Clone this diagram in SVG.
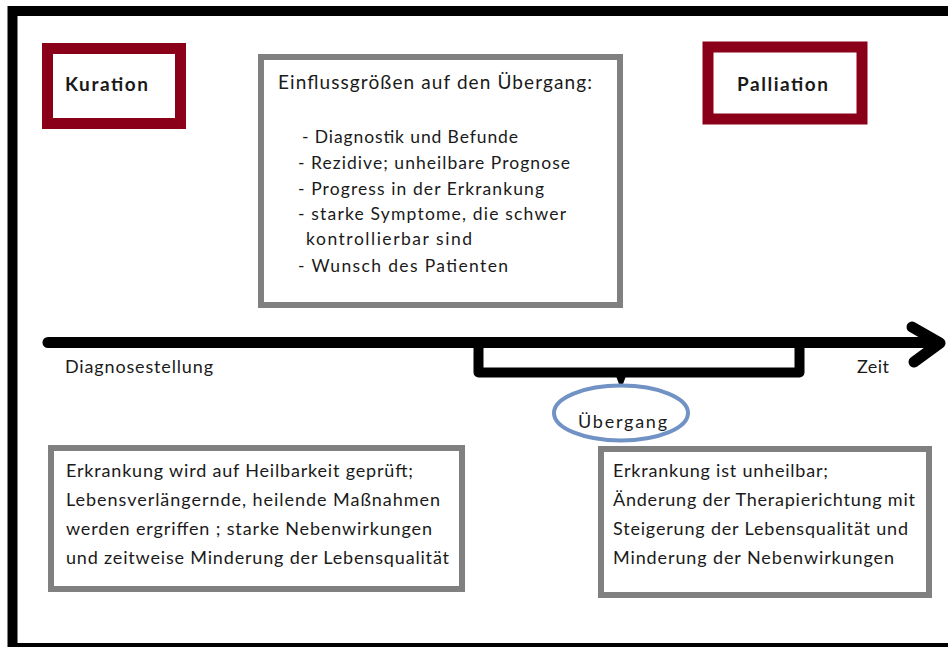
<svg xmlns="http://www.w3.org/2000/svg" width="948" height="647" viewBox="0 0 948 647">
<style>
text{font-family:Lato,"Open Sans","Liberation Sans",sans-serif;fill:#1a1a1a}
.t{font-size:18px}
.s{font-size:17.5px}
.h{font-size:19px}
.b{font-size:19px;font-weight:bold}
.red{fill:#fff;stroke:#8a0018;stroke-width:11}
.gray{fill:#fff;stroke:#808080;stroke-width:6}
.blk{fill:none;stroke:#000;stroke-linecap:round;stroke-linejoin:round}
</style>
<rect x="0" y="0" width="948" height="647" fill="#fff"/>
<rect id="frame" x="12.5" y="11" width="950" height="637" fill="none" stroke="#000" stroke-width="10"/>
<g id="kuration">
<rect class="red" x="47.5" y="48.5" width="133" height="75"/>
<text class="b" x="65" y="91" textLength="83">Kuration</text>
</g>
<g id="palliation">
<rect class="red" x="708" y="47" width="154" height="72"/>
<text class="b" x="737" y="91" textLength="91">Palliation</text>
</g>
<g id="einfluss">
<rect class="gray" x="261" y="57" width="359" height="248"/>
<text class="h" x="278" y="89" textLength="314">Einflussgrößen auf den Übergang:</text>
<text class="s" x="302" y="143" textLength="216">- Diagnostik und Befunde</text>
<text class="s" x="298" y="169" textLength="272">- Rezidive; unheilbare Prognose</text>
<text class="s" x="298" y="195" textLength="246">- Progress in der Erkrankung</text>
<text class="s" x="298" y="220" textLength="268">- starke Symptome, die schwer</text>
<text class="s" x="306" y="245" textLength="166">kontrollierbar sind</text>
<text class="s" x="298" y="272" textLength="210">- Wunsch des Patienten</text>
</g>
<g id="connectors">
<line class="blk" x1="48" y1="342.5" x2="938" y2="342.5" stroke-width="11"/>
<polyline class="blk" points="912,327 940,343 914,362" stroke-width="11"/>
<path class="blk" d="M478.5,343 V372.5 H799.5 V343" stroke-width="10" stroke-linecap="butt" stroke-linejoin="miter"/>
<path d="M616,376 H626 L623,384 H619 Z" fill="#000"/>
</g>
<g id="labels">
<text class="t" x="65" y="373" textLength="148">Diagnosestellung</text>
<text class="t" x="857" y="373" textLength="32">Zeit</text>
</g>
<g id="uebergang">
<ellipse cx="621" cy="413" rx="67" ry="27.5" fill="#fff" stroke="#7092c4" stroke-width="4"/>
<text class="t" x="578" y="428" textLength="89">Übergang</text>
</g>
<g id="kuration-text">
<rect class="gray" x="51" y="448" width="411" height="141"/>
<text class="t" x="66" y="477" textLength="347">Erkrankung wird auf Heilbarkeit geprüft;</text>
<text class="t" x="66" y="506" textLength="374">Lebensverlängernde, heilende Maßnahmen</text>
<text class="t" x="66" y="535" textLength="366">werden ergriffen ;  starke Nebenwirkungen</text>
<text class="t" x="66" y="564" textLength="383">und zeitweise Minderung der Lebensqualität</text>
</g>
<g id="palliation-text">
<rect class="gray" x="601" y="449" width="328" height="146"/>
<text class="t" x="613" y="477" textLength="215">Erkrankung ist unheilbar;</text>
<text class="t" x="613" y="506" textLength="302">Änderung der Therapierichtung mit</text>
<text class="t" x="613" y="535" textLength="295">Steigerung der Lebensqualität und</text>
<text class="t" x="613" y="564" textLength="281">Minderung der Nebenwirkungen</text>
</g>
</svg>
